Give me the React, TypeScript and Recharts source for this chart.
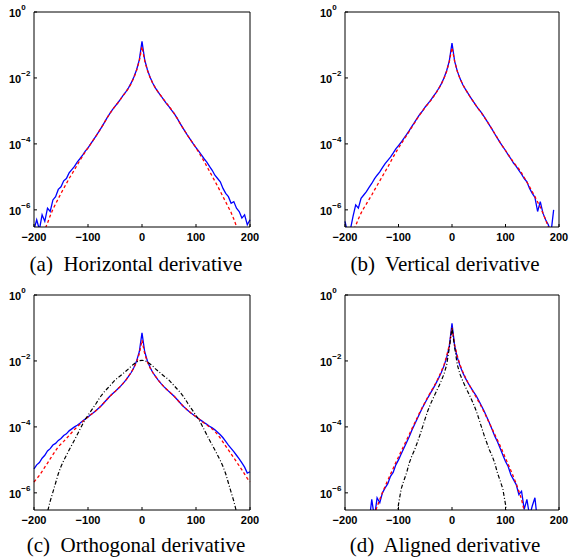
import React from "react";
import { Line, LineChart, XAxis, YAxis } from "recharts";

// x positions shared by all four panels
const XS = [
  -200, -195, -190, -185, -180, -175, -170, -165, -160, -155,
  -150, -145, -140, -135, -130, -125, -120, -115, -110, -105,
  -100, -95, -90, -85, -80, -75, -70, -65, -60, -55,
  -50, -45, -40, -35, -30, -25, -20, -15, -10, -5,
  0,
  5, 10, 15, 20, 25, 30, 35, 40, 45, 50,
  55, 60, 65, 70, 75, 80, 85, 90, 95, 100,
  105, 110, 115, 120, 125, 130, 135, 140, 145, 150,
  155, 160, 165, 170, 175, 180, 185, 190, 195, 200
];

const X_TICKS = [-200, -100, 0, 100, 200];
// exponents of ten
const Y_TICKS = [0, -2, -4, -6];
const Y_MIN = -6.52;

// values are log10 of the density
const A_BLUE = [
  -6.6, -6.3, -6.6, -6.15, -6.35, -5.95, -6.05, -5.7, -5.6, -5.38,
  -5.3, -5.12, -5.05, -4.88, -4.78, -4.68, -4.55, -4.45, -4.34, -4.22,
  -4.12, -4.0, -3.88, -3.76, -3.63, -3.5, -3.36, -3.22, -3.09, -2.97,
  -2.86, -2.76, -2.65, -2.53, -2.42, -2.3, -2.15, -1.97, -1.75, -1.45,
  -0.89,
  -1.45, -1.75, -1.98, -2.16, -2.31, -2.43, -2.54, -2.66, -2.77, -2.87,
  -2.98, -3.09, -3.22, -3.36, -3.5, -3.63, -3.76, -3.88, -4.0, -4.11,
  -4.22, -4.33, -4.45, -4.55, -4.68, -4.8, -4.95, -5.05, -5.15, -5.35,
  -5.5, -5.6, -5.8, -5.75, -5.95, -6.05, -6.25, -6.15, -6.45, -6.3
];
const A_RED = [
  -7.3, -7.1, -6.95, -6.8, -6.6, -6.4, -6.18, -5.98, -5.82, -5.66,
  -5.5, -5.35, -5.2, -5.05, -4.92, -4.78, -4.64, -4.5, -4.37, -4.24,
  -4.12, -4.0, -3.88, -3.76, -3.63, -3.5, -3.36, -3.22, -3.09, -2.97,
  -2.86, -2.76, -2.65, -2.54, -2.43, -2.31, -2.17, -1.99, -1.77, -1.48,
  -1.05,
  -1.48, -1.77, -1.99, -2.17, -2.31, -2.43, -2.54, -2.65, -2.76, -2.86,
  -2.97, -3.09, -3.22, -3.36, -3.5, -3.63, -3.76, -3.88, -4.0, -4.12,
  -4.25, -4.39, -4.53, -4.68, -4.83, -4.98, -5.13, -5.28, -5.44, -5.6,
  -5.76, -5.92, -6.08, -6.28, -6.5, -6.72, -6.95, -7.2, -7.4, -7.6
];

const B_BLUE = [
  -6.35, -6.7, -6.6, -6.2, -5.85, -5.95, -5.65, -5.55, -5.45, -5.32,
  -5.2, -5.06, -4.95, -4.85, -4.72, -4.6, -4.5, -4.4, -4.28, -4.15,
  -4.05, -3.95, -3.83, -3.72, -3.6, -3.47, -3.35, -3.22, -3.1, -3.0,
  -2.88, -2.78, -2.68, -2.56, -2.45, -2.32, -2.18, -2.0, -1.78, -1.48,
  -0.94,
  -1.5, -1.8, -2.02, -2.2, -2.34, -2.47, -2.6, -2.72, -2.84, -2.95,
  -3.05, -3.17, -3.3, -3.43, -3.56, -3.7, -3.83, -3.96, -4.08, -4.2,
  -4.33, -4.45, -4.58, -4.68, -4.8, -4.92, -5.05, -5.15, -5.35, -5.5,
  -5.62, -6.05, -5.75, -6.1, -6.3, -6.45, -6.7, -6.0, null, null
];
const B_RED = [
  -7.2, -7.0, -6.8, -6.65, -6.48, -6.28, -6.1, -5.95, -5.82, -5.68,
  -5.55, -5.4, -5.26, -5.12, -4.98, -4.84, -4.7, -4.55, -4.4, -4.26,
  -4.12, -4.0, -3.87, -3.75, -3.62, -3.49, -3.36, -3.23, -3.11, -3.0,
  -2.89, -2.79, -2.69, -2.58, -2.46, -2.33, -2.19, -2.01, -1.8, -1.5,
  -1.08,
  -1.5, -1.8, -2.02, -2.2, -2.34, -2.47, -2.6, -2.72, -2.84, -2.95,
  -3.06, -3.18, -3.3, -3.43, -3.56, -3.69, -3.82, -3.96, -4.08, -4.2,
  -4.32, -4.44, -4.56, -4.66, -4.76, -4.88, -5.02, -5.16, -5.3, -5.45,
  -5.6, -5.76, -5.92, -6.1, -6.3, -6.52, -6.74, -6.95, -7.15, -7.35
];

const C_BLUE = [
  -5.27, -5.15, -5.08, -4.95, -4.86, -4.73, -4.66, -4.55, -4.5, -4.41,
  -4.35, -4.26, -4.21, -4.12, -4.06, -4.0, -3.95, -3.89, -3.82, -3.76,
  -3.7, -3.63, -3.57, -3.5, -3.43, -3.35, -3.26, -3.17, -3.08, -3.0,
  -2.93, -2.85, -2.77, -2.68, -2.58, -2.47, -2.35, -2.2, -2.0, -1.72,
  -1.15,
  -1.72, -2.0, -2.2, -2.35, -2.47, -2.58, -2.68, -2.77, -2.85, -2.93,
  -3.0, -3.08, -3.17, -3.26, -3.35, -3.43, -3.5, -3.57, -3.63, -3.69,
  -3.75, -3.81, -3.87, -3.92, -3.98, -4.03, -4.09, -4.16, -4.24, -4.33,
  -4.44, -4.55, -4.65, -4.75, -4.86, -4.97, -5.09, -5.22, -5.4, -5.36
];
const C_RED = [
  -5.67, -5.57, -5.47, -5.35, -5.22, -5.1, -4.97, -4.84, -4.72, -4.6,
  -4.52, -4.44, -4.35, -4.26, -4.17, -4.08, -4.0, -3.92, -3.84, -3.76,
  -3.7, -3.63, -3.57, -3.5, -3.43, -3.35, -3.26, -3.17, -3.08, -3.0,
  -2.93, -2.85, -2.77, -2.68, -2.58, -2.47, -2.35, -2.21, -2.03, -1.78,
  -1.37,
  -1.78, -2.03, -2.21, -2.35, -2.47, -2.58, -2.68, -2.77, -2.85, -2.93,
  -3.0, -3.08, -3.17, -3.26, -3.35, -3.43, -3.5, -3.57, -3.63, -3.69,
  -3.75, -3.82, -3.88, -3.94, -4.0, -4.06, -4.14, -4.23, -4.34, -4.46,
  -4.58, -4.7, -4.82, -4.94, -5.06, -5.18, -5.3, -5.43, -5.56, -5.67
];
const C_BLACK = [
  -8.4, -8.0, -7.6, -7.25, -6.9, -6.58, -6.25, -5.98, -5.7, -5.42,
  -5.2, -5.02, -4.86, -4.7, -4.55, -4.4, -4.24, -4.08, -3.92, -3.77,
  -3.65, -3.53, -3.41, -3.29, -3.16, -3.04, -2.94, -2.85, -2.76, -2.67,
  -2.58, -2.51, -2.45, -2.38, -2.31, -2.24, -2.16, -2.09, -2.03, -1.99,
  -1.98,
  -1.99, -2.03, -2.09, -2.16, -2.24, -2.31, -2.38, -2.45, -2.51, -2.58,
  -2.67, -2.76, -2.85, -2.94, -3.04, -3.16, -3.29, -3.41, -3.53, -3.65,
  -3.77, -3.92, -4.08, -4.24, -4.4, -4.55, -4.7, -4.86, -5.02, -5.2,
  -5.42, -5.7, -5.98, -6.25, -6.58, -6.9, -7.25, -7.6, -8.0, -8.4
];

const D_BLUE = [
  null, null, null, null, null, null, null, null, null, -6.9,
  -6.2, -6.75, -6.15, -6.3, -6.0, -5.85, -5.72, -5.5, -5.38, -5.15,
  -5.0, -4.82, -4.65, -4.47, -4.3, -4.1, -3.93, -3.75, -3.58, -3.41,
  -3.26, -3.11, -2.97, -2.83, -2.68, -2.52, -2.35, -2.15, -1.9, -1.55,
  -0.86,
  -1.55, -1.9, -2.15, -2.35, -2.52, -2.67, -2.8, -2.93, -3.05, -3.2,
  -3.36, -3.52, -3.7, -3.88, -4.08, -4.28, -4.45, -4.65, -4.85, -5.05,
  -5.2, -5.45, -5.6, -5.75, -6.05, -5.95, -6.5, -6.2, -6.7, -6.4,
  -6.15, -6.9, null, null, null, null, null, null, null, null
];
const D_RED = [
  null, null, null, null, null, null, null, -7.8, -7.5, -7.2,
  -6.9, -6.65, -6.42, -6.2, -5.99, -5.8, -5.62, -5.44, -5.26, -5.08,
  -4.91, -4.74, -4.57, -4.4, -4.23, -4.06, -3.89, -3.72, -3.55, -3.39,
  -3.24, -3.09, -2.95, -2.81, -2.66, -2.5, -2.32, -2.12, -1.85, -1.52,
  -1.0,
  -1.52, -1.85, -2.12, -2.32, -2.5, -2.66, -2.81, -2.95, -3.09, -3.24,
  -3.39, -3.55, -3.72, -3.89, -4.06, -4.23, -4.4, -4.57, -4.76, -4.95,
  -5.13, -5.32, -5.52, -5.72, -5.95, -6.2, -6.55, -6.9, -7.2, -7.5,
  null, null, null, null, null, null, null, null, null, null
];
const D_BLACK = [
  null, null, null, null, null, null, null, null, null, null,
  null, null, null, null, null, null, null, null, null, -6.95,
  -6.35, -5.88, -5.63, -5.4, -5.1, -4.88, -4.7, -4.48, -4.25, -4.0,
  -3.74, -3.5, -3.3, -3.12, -2.95, -2.78, -2.6, -2.4, -2.12, -1.6,
  -1.0,
  -1.6, -2.12, -2.4, -2.6, -2.78, -2.95, -3.12, -3.3, -3.5, -3.74,
  -4.0, -4.25, -4.48, -4.7, -4.88, -5.1, -5.4, -5.63, -5.88, -6.35,
  -6.95, null, null, null, null, null, null, null, null, null,
  null, null, null, null, null, null, null, null, null, null
];

const CAPTIONS = [
  "(a)  Horizontal derivative",
  "(b)  Vertical derivative",
  "(c)  Orthogonal derivative",
  "(d)  Aligned derivative"
];

const SANS = '"Liberation Sans", Arial, Helvetica, sans-serif';
const SERIF = '"Liberation Serif", "Times New Roman", Times, serif';

const minus = (v: number) => (v < 0 ? "\u2212" + Math.abs(v) : String(v));

function PowerTick(props: any) {
  const { x, y, payload } = props;
  return (
    <text x={x - 25} y={y + 5} fill="#000" fontFamily={SANS} fontWeight="bold" fontSize={11}>
      10
      <tspan dy={-7} fontSize={8}>
        {minus(payload.value)}
      </tspan>
    </text>
  );
}

function BottomTick(props: any) {
  const { x, y, payload } = props;
  return (
    <text x={x} y={y + 8} textAnchor="middle" fill="#000" fontFamily={SANS} fontWeight="bold" fontSize={11}>
      {minus(payload.value)}
    </text>
  );
}

type PanelProps = {
  left: number;
  top: number;
  width: number;
  right: number;
  blue: (number | null)[];
  red: (number | null)[];
  black?: (number | null)[];
};

function Panel({ left, top, width, right, blue, red, black }: PanelProps) {
  const rows = XS.map((x, i) => ({
    x,
    blue: blue[i],
    red: red[i],
    black: black ? black[i] : null
  }));
  const axisStroke = { stroke: "#000", strokeWidth: 1 };

  return (
    <div style={{ position: "absolute", left, top }}>
      <LineChart width={width} height={280} data={rows} margin={{ top: 7, right, bottom: 28, left: 0 }}>
        <XAxis
          xAxisId="b"
          dataKey="x"
          type="number"
          domain={[-200, 200]}
          ticks={X_TICKS}
          interval={0}
          height={25}
          tickSize={-3}
          tickMargin={9}
          axisLine={axisStroke}
          tickLine={axisStroke}
          tick={<BottomTick />}
        />
        <XAxis
          xAxisId="t"
          orientation="top"
          dataKey="x"
          type="number"
          domain={[-200, 200]}
          ticks={X_TICKS}
          interval={0}
          height={5}
          tickSize={-3}
          axisLine={axisStroke}
          tickLine={axisStroke}
          tick={false}
        />
        <YAxis
          yAxisId="l"
          type="number"
          domain={[Y_MIN, 0]}
          allowDataOverflow
          ticks={Y_TICKS}
          interval={0}
          width={34}
          tickSize={-3}
          tickMargin={3}
          axisLine={axisStroke}
          tickLine={axisStroke}
          tick={<PowerTick />}
        />
        <YAxis
          yAxisId="r"
          orientation="right"
          type="number"
          domain={[Y_MIN, 0]}
          allowDataOverflow
          ticks={Y_TICKS}
          interval={0}
          width={5}
          tickSize={-3}
          axisLine={axisStroke}
          tickLine={axisStroke}
          tick={false}
        />
        <Line
          xAxisId="b"
          yAxisId="l"
          dataKey="blue"
          type="linear"
          stroke="#0000ff"
          strokeWidth={1.3}
          dot={false}
          activeDot={false}
          isAnimationActive={false}
        />
        <Line
          xAxisId="b"
          yAxisId="l"
          dataKey="red"
          type="linear"
          stroke="#ff0000"
          strokeWidth={1.3}
          strokeDasharray="3 2.5"
          dot={false}
          activeDot={false}
          isAnimationActive={false}
        />
        {black && (
          <Line
            xAxisId="b"
            yAxisId="l"
            dataKey="black"
            type="linear"
            stroke="#000"
            strokeWidth={1.2}
            strokeDasharray="4 2 1 2"
            dot={false}
            activeDot={false}
            isAnimationActive={false}
          />
        )}
      </LineChart>
    </div>
  );
}

export default function App() {
  return (
    <div style={{ position: "absolute", left: 0, top: 0, width: 571, height: 560, background: "#fff" }}>
      <Panel left={0} top={0} width={290} right={35} blue={A_BLUE} red={A_RED} />
      <Panel left={311} top={0} width={260} right={7} blue={B_BLUE} red={B_RED} />
      <Panel left={0} top={283} width={290} right={35} blue={C_BLUE} red={C_RED} black={C_BLACK} />
      <Panel left={311} top={283} width={260} right={7} blue={D_BLUE} red={D_RED} black={D_BLACK} />
      <svg width={571} height={560} style={{ position: "absolute", left: 0, top: 0, pointerEvents: "none" }}>
        {CAPTIONS.map((c, i) => (
          <text
            key={c}
            x={i % 2 === 0 ? 136 : 445}
            y={i < 2 ? 271 : 552}
            textAnchor="middle"
            fontFamily={SERIF}
            fontSize={21}
            fill="#000"
            style={{ whiteSpace: "pre" }}
          >
            {c}
          </text>
        ))}
      </svg>
    </div>
  );
}
